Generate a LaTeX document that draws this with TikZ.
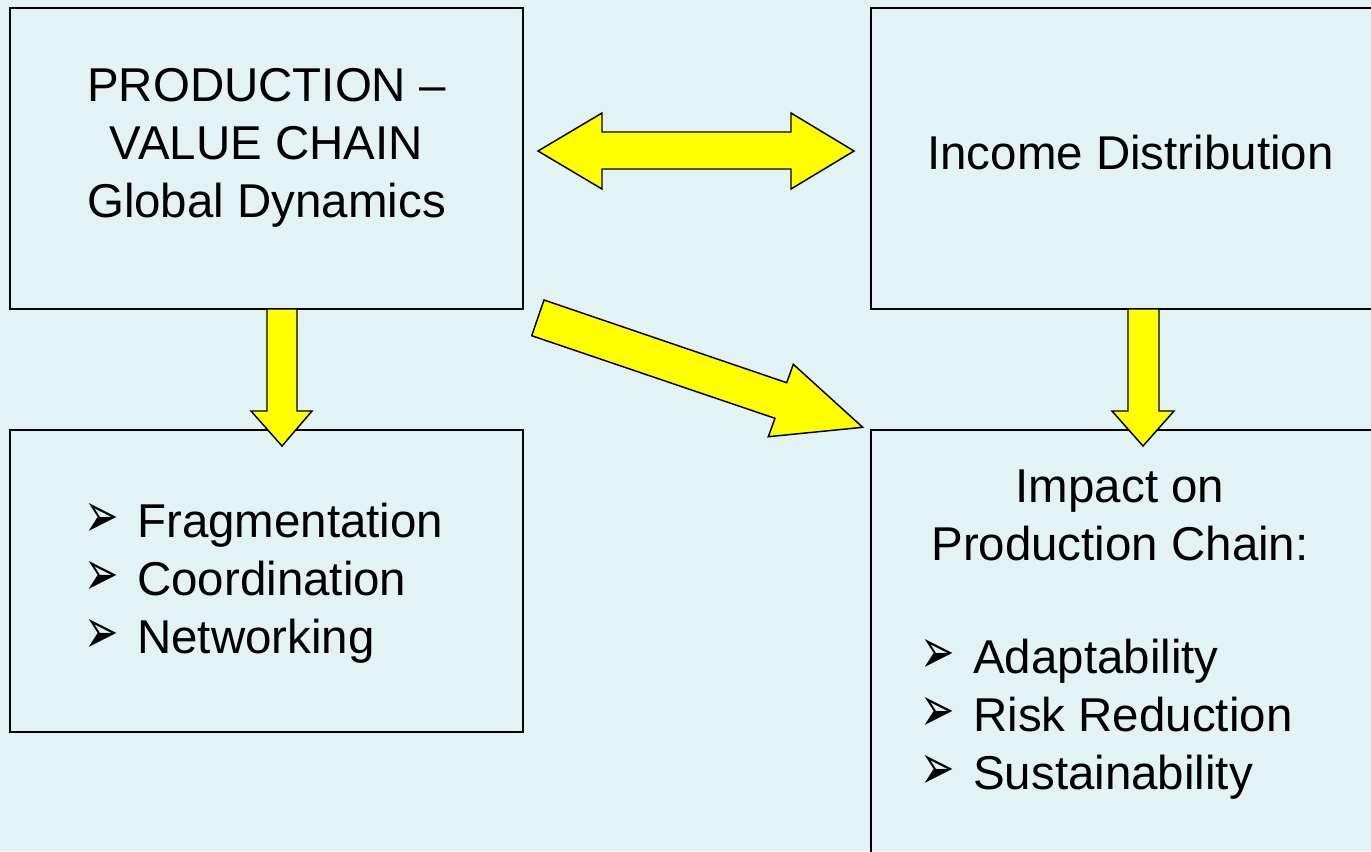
\documentclass[tikz,border=0pt]{standalone}
\usepackage{fontspec}
\usepackage{graphicx}
\setmainfont{Liberation Sans}
\newfontfamily\dingfont{DejaVu Sans}
\usetikzlibrary{positioning}
\usetikzlibrary{calc}

\definecolor{bgcyan}{RGB}{227,243,243}
\definecolor{arrowyellow}{RGB}{255,255,0}
\newcommand{\chainbullet}{\makebox[39.75pt][l]{\scalebox{0.77}[1.2]{\dingfont\fontsize{40}{40}\selectfont ➢}}}

\begin{document}
\begin{tikzpicture}[x=0.75pt, y=-0.75pt,
box/.style={rectangle, draw=black, line width=1.1pt, inner sep=0pt, outer sep=0pt, minimum width=384.75pt, minimum height=225.75pt},
bigarrow/.style={draw=black, line width=1.1pt, fill=arrowyellow, line join=miter},
bigtext/.style={inner sep=0pt, font=\fontsize{35.6}{43.5}\selectfont},
]
%Background
\fill[bgcyan] (0,0) rectangle (1371,851);
\useasboundingbox (0,0) rectangle (1371,851);
\clip (0,0) rectangle (1371,851);

%Nodes
\node[box]                          (prod)   at (266.5,158.5)          {};
\node[box]                          (income) [right=261pt of prod]     {};
\node[box, minimum height=226.5pt]  (frag)   [below=90.75pt of prod]   {};
\node[box, minimum height=330pt]    (impact) [below=90.75pt of income] {};

%Texts
\node[bigtext, align=center, anchor=base] (prodlabel) at ($(prod.north)+(0,209)$) {PRODUCTION –\\VALUE CHAIN\\Global Dynamics};
\node[bigtext, anchor=base] (incomelabel) at ($(income.center)+(3,10.5)$) {Income Distribution};
\node[bigtext, align=left, anchor=base west] (fraglabel) at ($(frag.west)+(74,72)$) {\chainbullet Fragmentation\\\chainbullet Coordination\\\chainbullet Networking};
\node[bigtext, align=center, anchor=base] (impactlabel) at ($(impact.north)+(-7.5,130)$) {Impact on\\Production Chain:};
\node[bigtext, align=left, anchor=base west] (impactlist) at ($(impact.west)+(49,139)$) {\chainbullet Adaptability\\\chainbullet Risk Reduction\\\chainbullet Sustainability};

%Arrows
\draw[bigarrow, shift={(prod.east)}] (15,-7.5) -- (79,-45.5) -- (79,-26.5) -- (268,-26.5) -- (268,-45.5) -- (331,-7.5) -- (268,30.5) -- (268,10.5) -- (79,10.5) -- (79,30.5) -- cycle;
\draw[bigarrow, shift={(prod.south)}] (0.5,0) -- (30.5,0) -- (30.5,102) -- (45.5,102) -- (15.5,137) -- (-15.5,102) -- (0.5,102) -- cycle;
\draw[bigarrow, shift={(income.south)}] (0.5,0) -- (31.5,0) -- (31.5,102) -- (46.5,102) -- (15.5,137) -- (-15.5,102) -- (0.5,102) -- cycle;
\draw[bigarrow, shift={(prod.south east)}] (21,-9) -- (263.7,73.7) -- (270.3,55.3) -- (339.7,118.3) -- (245.3,127.7) -- (252,109.3) -- (8.7,26.7) -- cycle;
\end{tikzpicture}
\end{document}
